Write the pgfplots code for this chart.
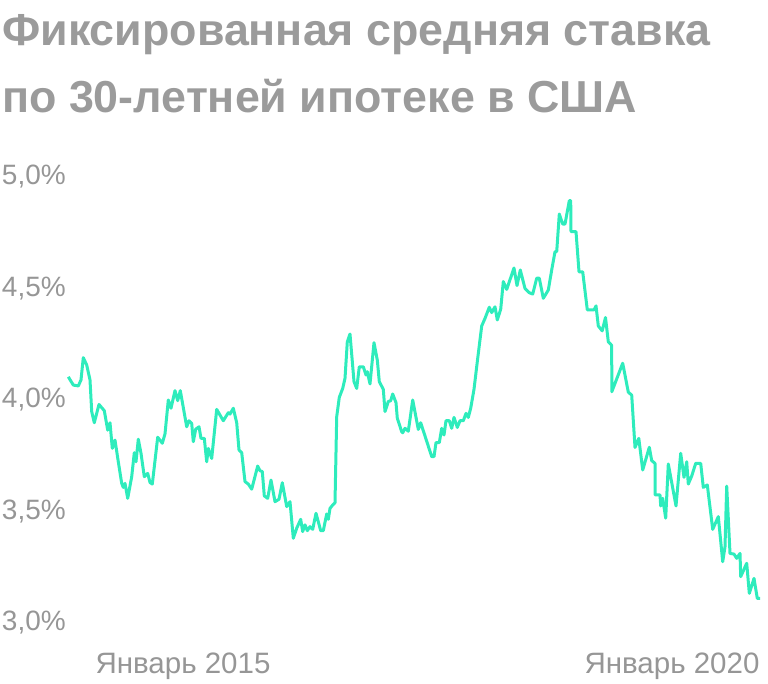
\documentclass[border=0pt]{standalone}
\usepackage{pgfplots}
\pgfplotsset{compat=1.18}
\usepackage{pgfplotstable}
\usepackage{fontspec}
\setmainfont{Liberation Sans}
\definecolor{lineC}{RGB}{46,236,188}
\definecolor{titleC}{RGB}{155,155,155}
\definecolor{tickC}{RGB}{150,150,150}

% x: horizontal position along the time axis (pixels of the reference), y: rate in %
\pgfplotstableread{
x y
68.3 4.104
73.3 4.067
78.3 4.063
81 4.09
83.3 4.19
86.7 4.157
90 4.09
91.7 3.948
94.3 3.898
99 3.98
104.3 3.952
107.7 3.865
110 3.898
112.3 3.783
115 3.82
118.3 3.723
121.7 3.626
123.3 3.608
125 3.626
127.7 3.559
131.7 3.656
134.3 3.764
136 3.723
138.3 3.824
141 3.761
144.3 3.656
147.7 3.671
150 3.63
152.3 3.623
157.7 3.833
162.3 3.806
165 3.848
168.3 4.0
171 3.963
175 4.042
177.7 3.997
180.3 4.042
186.7 3.88
189 3.907
191.7 3.895
193.3 3.813
195.7 3.869
199 3.88
201 3.828
204.3 3.828
206.7 3.723
208.3 3.783
211.7 3.738
216.7 3.958
223.3 3.907
228.3 3.943
230 3.937
233.3 3.963
236.7 3.898
239 3.776
241.7 3.764
245 3.634
248.3 3.623
251.7 3.6
257.7 3.704
260 3.683
262.3 3.679
264.3 3.57
267.7 3.559
271 3.641
275 3.544
279 3.555
282.3 3.629
286.7 3.522
290 3.544
293.3 3.38
296.7 3.425
300.7 3.465
302.7 3.41
305 3.44
307.3 3.414
310 3.432
312.7 3.42
316 3.492
320.7 3.414
323.3 3.414
326.7 3.489
328.3 3.465
330 3.514
332.7 3.529
335 3.539
336.7 3.925
339.3 4.012
342.7 4.052
345 4.097
347.3 4.261
350 4.296
354 4.082
356.7 4.052
359.3 4.149
363.3 4.149
366 4.112
367.3 4.127
370 4.072
374 4.257
377.3 4.179
379.3 4.082
383.3 4.048
385 3.948
388.3 3.993
390.7 3.997
392.7 4.027
396 3.988
397.3 3.918
401.7 3.858
402.7 3.853
405 3.873
408.3 3.86
412.7 4.0
418.3 3.868
420.7 3.898
431.7 3.746
434 3.746
436 3.809
439.3 3.809
441.7 3.873
444 3.843
446 3.907
449.3 3.907
451.7 3.873
454 3.922
457.3 3.877
460 3.907
463.3 3.907
466 3.94
468.3 3.922
470.7 3.963
474 4.048
477.3 4.172
481.7 4.332
485 4.366
489.3 4.416
491.7 4.392
495 4.418
497.3 4.359
500.7 4.407
503.3 4.531
506.7 4.496
514 4.592
517 4.513
520.3 4.583
525 4.5
529.3 4.481
532.7 4.475
536.7 4.546
539.3 4.546
543.3 4.456
548.3 4.493
551.7 4.583
555 4.665
556.7 4.665
559.3 4.834
562.7 4.789
565 4.789
569.3 4.894
570.7 4.894
571 4.755
576 4.755
579 4.575
582.7 4.575
587.3 4.404
594 4.404
596 4.422
598.3 4.332
602.2 4.31
605.5 4.37
608.3 4.261
611.7 4.245
611.8 4.037
622.7 4.165
628.3 4.035
631.7 4.022
635 3.787
638.8 3.828
642.7 3.686
649.3 3.788
651.7 3.728
655 3.716
655.1 3.574
660 3.574
660.7 3.525
662.7 3.559
665.7 3.47
668.3 3.713
676 3.525
680.7 3.761
684 3.653
686.7 3.723
688.3 3.623
691.7 3.659
695.7 3.716
700.7 3.716
703.3 3.608
707.3 3.619
712.7 3.42
718.3 3.477
722.7 3.275
725 3.342
726.7 3.614
730 3.312
734 3.309
736.7 3.29
740 3.312
740.7 3.208
746.7 3.268
749.3 3.133
754 3.2
757.3 3.11
760 3.11
}\ratedata

\begin{document}
\begin{tikzpicture}[x=1pt,y=1pt]
\path[use as bounding box] (0,0) rectangle (768,683);
\node[anchor=base west, inner sep=0pt, font=\fontsize{44.8}{44.8}\selectfont\bfseries, text=titleC] at (2,637) {Фиксированная средняя ставка};
\node[anchor=base west, inner sep=0pt, font=\fontsize{44.8}{44.8}\selectfont\bfseries, text=titleC] at (2,570) {по 30-летней ипотеке в США};
\begin{axis}[
  at={(68pt,60pt)}, anchor=south west,
  scale only axis, width=692pt, height=446pt,
  xmin=68, xmax=760, ymin=3, ymax=5,
  clip=false,
  axis line style={draw=none},
  major tick length=0pt,
  tick style={draw=none},
  ytick={3,3.5,4,4.5,5},
  yticklabels={{3,0\%},{3,5\%},{4,0\%},{4,5\%},{5,0\%}},
  yticklabel style={anchor=east, inner sep=0pt, xshift=-2pt, font=\fontsize{28}{28}\selectfont, text=tickC},
  xtick={183,672},
  xticklabels={Январь 2015, Январь 2020},
  xticklabel style={anchor=base, inner sep=0pt, yshift=-50pt, font=\fontsize{29.5}{29.5}\selectfont, text=tickC},
]
\addplot[lineC, line width=3pt, line join=round, mark=none] table[x=x, y=y] {\ratedata};
\end{axis}
\end{tikzpicture}
\end{document}
